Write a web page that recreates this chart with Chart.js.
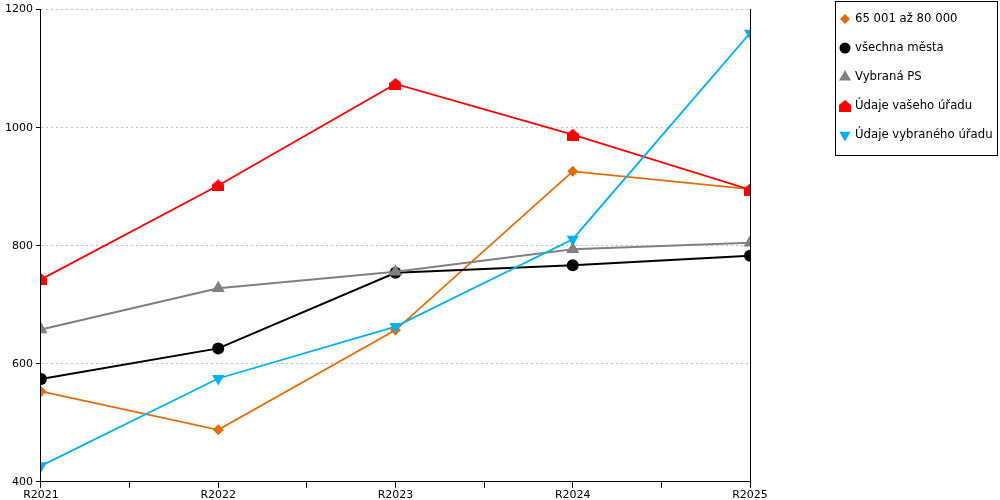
<!DOCTYPE html>
<html>
<head>
<meta charset="utf-8">
<title>Chart</title>
<script src="https://cdn.jsdelivr.net/npm/chart.js@4/dist/chart.umd.min.js"></script>
<style>
  html, body { margin: 0; padding: 0; background: #fff; }
  #chart { display: block; }
</style>
</head>
<body>
<canvas id="chart" width="1000" height="500"></canvas>
<script>
// categories (years)
var years = ["R2021", "R2022", "R2023", "R2024", "R2025"];

// series values
var skupina = [553, 488, 657, 926, 896];      // 65 001 až 80 000
var vsechnaMesta = [574, 626, 754, 767, 783];  // všechna města
var vybranaPS = [658, 728, 756, 794, 805];     // Vybraná PS
var vasUrad = [743, 902, 1074, 988, 895];      // Údaje vašeho úřadu
var vybranyUrad = [427, 575, 663, 811, 1160];  // Údaje vybraného úřadu

// y ticks
var yTicks = [400, 600, 800, 1000, 1200];

var names = ["65 001 až 80 000", "všechna města", "Vybraná PS", "Údaje vašeho úřadu", "Údaje vybraného úřadu"];

// red "house" marker
function houseMarker(color) {
  var c = document.createElement('canvas');
  c.width = 12; c.height = 12;
  var g = c.getContext('2d');
  g.fillStyle = color;
  g.beginPath();
  g.moveTo(6, 0);
  g.lineTo(12, 5);
  g.lineTo(12, 12);
  g.lineTo(0, 12);
  g.lineTo(0, 5);
  g.closePath();
  g.fill();
  return c;
}
var house = houseMarker('#ff0000');

function toPoints(arr) {
  return arr.map(function (v, i) { return { x: i, y: v }; });
}

var series = [
  { label: names[0], data: skupina, color: '#e36c09', style: 'rectRot', radius: 5.5, rot: 0, width: 1.8, order: 5 },
  { label: names[1], data: vsechnaMesta, color: '#000000', style: 'circle', radius: 6, rot: 0, width: 2, order: 4 },
  { label: names[2], data: vybranaPS, color: '#808080', style: 'triangle', radius: 7.5, rot: 0, width: 2, order: 3 },
  { label: names[3], data: vasUrad, color: '#ff0000', style: house, radius: 6, rot: 0, width: 1.8, order: 2 },
  { label: names[4], data: vybranyUrad, color: '#00b0f0', style: 'triangle', radius: 7, rot: 180, width: 1.8, order: 1 }
];

var datasets = series.map(function (s) {
  return {
    label: s.label,
    data: toPoints(s.data),
    borderColor: s.color,
    backgroundColor: s.color,
    borderWidth: s.width,
    pointStyle: s.style,
    pointRadius: s.radius,
    pointHoverRadius: s.radius,
    pointRotation: s.rot,
    pointBorderWidth: 0,
    pointBackgroundColor: s.color,
    tension: 0,
    order: s.order
  };
});

// legend with a frame, drawn in the free space right of the plot
var framedLegend = {
  id: 'framedLegend',
  afterDraw: function (chart) {
    var ctx = chart.ctx;
    var x0 = 835.5, y0 = 1.5, w = 162, h = 154;
    ctx.save();
    ctx.strokeStyle = '#000';
    ctx.lineWidth = 1;
    ctx.strokeRect(x0, y0, w, h);
    ctx.font = '11.7px "DejaVu Sans", Verdana, sans-serif';
    ctx.textBaseline = 'middle';
    series.forEach(function (s, i) {
      var y = 19 + i * 29;
      ctx.fillStyle = s.color;
      Chart.helpers.drawPoint(ctx, {
        pointStyle: s.style,
        radius: s.radius - 0.5,
        rotation: s.rot,
        borderWidth: 0
      }, 845, y);
      ctx.fillStyle = '#000';
      ctx.fillText(s.label, 855, y);
    });
    ctx.restore();
  }
};

var ctx = document.getElementById('chart').getContext('2d');
Chart.defaults.font.family = '"DejaVu Sans", Verdana, sans-serif';
Chart.defaults.font.size = 11;
Chart.defaults.color = '#000';

var chart = new Chart(ctx, {
  type: 'line',
  data: { datasets: datasets },
  options: {
    responsive: false,
    animation: false,
    layout: { padding: { left: 2, right: 242, top: 7, bottom: -3 } },
    plugins: {
      legend: { display: false },
      tooltip: { enabled: false }
    },
    scales: {
      x: {
        type: 'linear',
        min: 0,
        max: years.length - 1,
        grid: { drawOnChartArea: false, tickLength: 6, tickColor: '#000' },
        border: { color: '#000' },
        ticks: {
          stepSize: 0.5,
          autoSkip: false,
          maxRotation: 0,
          padding: 1,
          callback: function (v) { return Number.isInteger(v) ? years[v] : ''; }
        }
      },
      y: {
        min: yTicks[0],
        max: yTicks[yTicks.length - 1],
        afterBuildTicks: function (axis) {
          axis.ticks = yTicks.map(function (v) { return { value: v }; });
        },
        grid: { color: '#c0c0c0', tickLength: 5, tickColor: '#000', tickBorderDash: [] },
        border: { color: '#000', dash: [2, 3] },
        ticks: {
          padding: 3,
          callback: function (v) { return String(v); }
        }
      },
      y2: {
        position: 'right',
        min: 0,
        max: 1,
        grid: { display: false },
        ticks: { display: false },
        border: { color: '#000' }
      }
    }
  },
  plugins: [framedLegend]
});
</script>
</body>
</html>
